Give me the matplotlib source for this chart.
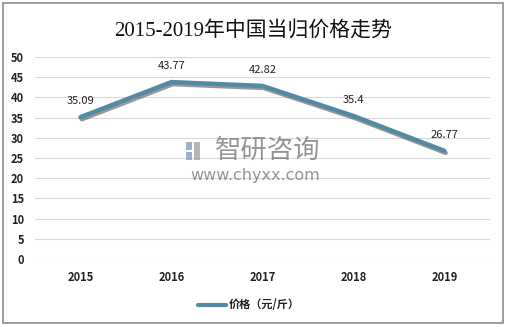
import matplotlib.pyplot as plt
import matplotlib.patheffects as pe
from matplotlib.patches import Rectangle
from matplotlib.lines import Line2D

years = ['2015', '2016', '2017', '2018', '2019']
prices = [35.09, 43.77, 42.82, 35.4, 26.77]
price_labels = ['35.09', '43.77', '42.82', '35.4', '26.77']

plt.rcParams['font.family'] = ['Noto Sans CJK SC', 'DejaVu Sans']

fig = plt.figure(figsize=(5.07, 3.27), dpi=100)
ax = fig.add_axes([0.069, 0.208, 0.897, 0.618])

# outer border
fig.patches.append(Rectangle((0.006, 0.012), 0.986, 0.978, transform=fig.transFigure,
                             fill=False, edgecolor='#8c8c8c', linewidth=1.2))

x = list(range(len(years)))
ax.plot(x, prices, color='#5389a3', linewidth=3.2, solid_capstyle='round',
        path_effects=[pe.SimpleLineShadow(offset=(1, -1.5), shadow_color='#444444', alpha=0.55),
                      pe.Normal()], zorder=3)

for xi, yi, lab in zip(x, prices, price_labels):
    ax.annotate(lab, (xi, yi), xytext=(0, 8), textcoords='offset points',
                ha='center', va='bottom', fontsize=8, color='#222222')

ax.set_xlim(-0.5, 4.5)
ax.set_ylim(0, 50)
ax.set_yticks(range(0, 51, 5))
ax.set_xticks(x)
ax.set_xticklabels(years, fontweight='bold')
for t in ax.get_yticklabels():
    t.set_fontweight('semibold')
ax.tick_params(length=0, labelsize=8, colors='#222222')
ax.tick_params(axis='x', pad=9)
ax.tick_params(axis='y', pad=8)
ax.grid(axis='y', color='#d9d9d9', linewidth=0.8)
ax.set_axisbelow(True)
for s in ax.spines.values():
    s.set_visible(False)

fig.text(0.5, 0.905, '2015-2019年中国当归价格走势', ha='center', va='center',
         fontsize=15, fontweight='medium', family=['Liberation Serif', 'Noto Sans CJK SC'],
         color='#111111')

# watermark: small logo blocks + text
logo = [(0.366, 0.510, 0.013, 0.024, '#8fa3c4'), (0.366, 0.542, 0.013, 0.024, '#8fa3c4'),
        (0.382, 0.510, 0.013, 0.056, '#a9a9a9')]
for lx, ly, lw, lh, lc in logo:
    fig.patches.append(Rectangle((lx, ly), lw, lh, transform=fig.transFigure,
                                 facecolor=lc, edgecolor='none', alpha=0.85))
fig.text(0.529, 0.54, '智研咨询', ha='center', va='center', fontsize=19,
         color='#7a7a7a', alpha=0.8)
fig.text(0.503, 0.462, 'www.chyxx.com', ha='center', va='center', fontsize=11.5,
         color='#7a7a7a', alpha=0.8, family='DejaVu Sans')

# legend
fig.lines.append(Line2D([0.39, 0.445], [0.068, 0.068], transform=fig.transFigure,
                        color='#5389a3', linewidth=3, solid_capstyle='round'))
fig.text(0.452, 0.068, '价格（元/斤）', ha='left', va='center', fontsize=8,
         fontweight='bold', color='#222222')

fig.savefig('out.png', dpi=100)
